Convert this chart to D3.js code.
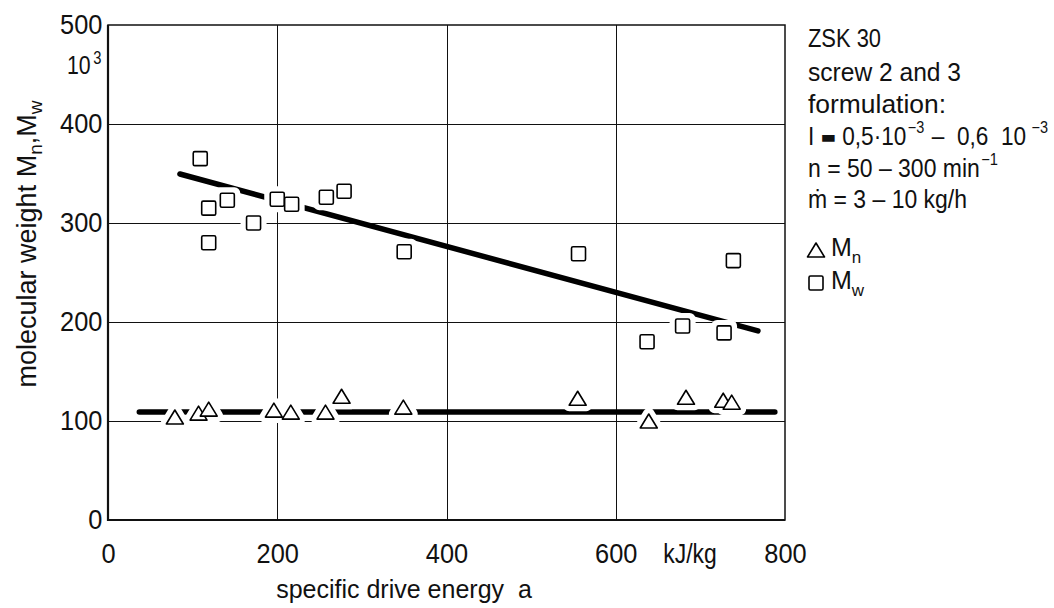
<!DOCTYPE html>
<html>
<head>
<meta charset="utf-8">
<script src="https://cdn.jsdelivr.net/npm/d3@7"></script>
<style>
  html, body { margin: 0; padding: 0; background: #fff; }
  svg { display: block; }
  text { fill: #111; }
</style>
</head>
<body>
<svg id="chart" width="1054" height="608"></svg>
<script>
// Weight-average molecular weight Mw (10^3) vs specific drive energy (kJ/kg)
const mwEnergy = [109, 119, 141, 119, 172, 200, 217, 258, 279, 350, 556, 739, 679, 637, 728];
const mwWeight = [365, 315, 323, 280, 300, 324, 319, 326, 332, 271, 269, 262, 196, 180, 189];

// Number-average molecular weight Mn (10^3) vs specific drive energy (kJ/kg)
const mnEnergy = [79, 107, 119, 196, 216, 257, 276, 349, 555, 639, 683, 727, 737];
const mnWeight = [104, 108, 112, 111, 109, 109, 125, 114, 123, 100, 124, 121, 119];

// Trend lines (start / end)
const mwTrendEnergy = [85, 768];
const mwTrendWeight = [349.5, 191];
const mnTrendEnergy = [37, 788];
const mnTrendWeight = [109, 109];

// Axis ticks
const xTicks = [0, 200, 400, 600, 800];
const yTicks = [0, 100, 200, 300, 400, 500];
const xGrid = [200, 400, 600];
const yGrid = [100, 200, 300, 400];

const SANS = "'Liberation Sans', Arial, sans-serif";
const DIGIT_X = 0.94;   // slight horizontal squeeze for the stencil-style digits

const svg = d3.select("#chart");

const x = d3.scaleLinear().domain([0, 800]).range([108, 785]);
const y = d3.scaleLinear().domain([0, 500]).range([520, 25]);

// Grid
const grid = svg.append("g").attr("stroke", "#111").attr("stroke-width", 1)
  .attr("shape-rendering", "crispEdges");
grid.selectAll("line.v").data(xGrid).join("line")
  .attr("class", "v")
  .attr("x1", d => Math.round(x(d)) + 0.5).attr("x2", d => Math.round(x(d)) + 0.5)
  .attr("y1", y(0)).attr("y2", y(500));
grid.selectAll("line.h").data(yGrid).join("line")
  .attr("class", "h")
  .attr("x1", x(0)).attr("x2", x(800))
  .attr("y1", d => Math.round(y(d)) + 0.5).attr("y2", d => Math.round(y(d)) + 0.5);

// Frame
svg.append("rect")
  .attr("x", x(0)).attr("y", y(500))
  .attr("width", x(800) - x(0)).attr("height", y(0) - y(500))
  .attr("fill", "none").attr("stroke", "#111").attr("stroke-width", 1.5);
svg.append("line")
  .attr("x1", x(0)).attr("x2", x(0)).attr("y1", y(0) + 1).attr("y2", y(500))
  .attr("stroke", "#111").attr("stroke-width", 2.2);
svg.append("line")
  .attr("x1", x(0)).attr("x2", x(800)).attr("y1", y(0)).attr("y2", y(0))
  .attr("stroke", "#111").attr("stroke-width", 2.2);

// Trend lines
const lineGen = d3.line().x(d => x(d[0])).y(d => y(d[1]));
const mwTrend = mwTrendEnergy.map((e, i) => [e, mwTrendWeight[i]]);
const mnTrend = mnTrendEnergy.map((e, i) => [e, mnTrendWeight[i]]);
svg.append("path").datum(mwTrend).attr("d", lineGen)
  .attr("fill", "none").attr("stroke", "#000").attr("stroke-width", 5.5)
  .attr("stroke-linecap", "round");
svg.append("path").datum(mnTrend).attr("d", lineGen)
  .attr("fill", "none").attr("stroke", "#000").attr("stroke-width", 5.5)
  .attr("stroke-linecap", "round");

// Marker shapes
const SQ = 14, TW = 17, TH = 14;
function trianglePath(cx, cy) {
  return `M${cx},${cy - TH / 2}L${cx + TW / 2},${cy + TH / 2}L${cx - TW / 2},${cy + TH / 2}Z`;
}
const mwPts = mwEnergy.map((e, i) => ({ e, w: mwWeight[i] }));
const mnPts = mnEnergy.map((e, i) => ({ e, w: mnWeight[i] }));

// White halos so lines break around the symbols
const halo = svg.append("g").attr("fill", "#fff").attr("stroke", "#fff").attr("stroke-width", 12)
  .attr("stroke-linejoin", "round");
halo.selectAll("rect").data(mwPts).join("rect")
  .attr("x", d => x(d.e) - SQ / 2).attr("y", d => y(d.w) - SQ / 2)
  .attr("width", SQ).attr("height", SQ);
halo.selectAll("path").data(mnPts).join("path")
  .attr("d", d => trianglePath(x(d.e), y(d.w)));

const marks = svg.append("g").attr("fill", "#fff").attr("stroke", "#000").attr("stroke-width", 1.6);
marks.selectAll("rect").data(mwPts).join("rect")
  .attr("x", d => x(d.e) - SQ / 2).attr("y", d => y(d.w) - SQ / 2)
  .attr("width", SQ).attr("height", SQ).attr("rx", 1.5);
marks.selectAll("path").data(mnPts).join("path")
  .attr("d", d => trianglePath(x(d.e), y(d.w)))
  .attr("stroke-linejoin", "round");

// Axes (labels only)
const xAxis = svg.append("g").attr("transform", `translate(0,${y(0)})`)
  .call(d3.axisBottom(x).tickValues(xTicks).tickSize(0).tickPadding(24).tickFormat(d3.format("d")));
xAxis.select(".domain").remove();
xAxis.selectAll("text").attr("font-family", SANS).attr("font-size", 27).attr("fill", "#111")
  .attr("transform", `scale(${DIGIT_X},1)`);

const yAxis = svg.append("g").attr("transform", `translate(${x(0)},0)`)
  .call(d3.axisLeft(y).tickValues(yTicks).tickSize(0).tickPadding(6).tickFormat(d3.format("d")));
yAxis.select(".domain").remove();
yAxis.selectAll("text").attr("font-family", SANS).attr("font-size", 27).attr("fill", "#111")
  .attr("transform", `scale(${DIGIT_X},1)`);

// Unit on x axis
svg.append("text").attr("transform", `translate(690,563) scale(0.85,1)`).attr("text-anchor", "middle")
  .attr("font-family", SANS).attr("font-size", 27).text("kJ/kg");

// Unit on y axis: 10^3
const unitY = svg.append("text").attr("transform", `translate(67,74) scale(0.82,1)`)
  .attr("font-family", SANS).attr("font-size", 26);
unitY.append("tspan").text("10");
unitY.append("tspan").attr("font-size", 18).attr("dy", -10).attr("dx", 3).text("3");

// Axis titles
svg.append("text").attr("x", 404).attr("y", 598).attr("text-anchor", "middle")
  .attr("font-family", SANS).attr("font-size", 25)
  .attr("xml:space", "preserve")
  .text("specific drive energy  a");

const yTitle = svg.append("text")
  .attr("transform", "translate(36,244) rotate(-90)")
  .attr("text-anchor", "middle")
  .attr("font-family", SANS).attr("font-size", 27);
yTitle.append("tspan").text("molecular weight M");
yTitle.append("tspan").attr("font-size", 19).attr("dy", 6).text("n");
yTitle.append("tspan").attr("dy", -6).text(",M");
yTitle.append("tspan").attr("font-size", 19).attr("dy", 6).text("w");

// Side notes
const LX = 808;
const notes = svg.append("g").attr("font-family", SANS).attr("font-size", 25);
const base = [47, 81, 113, 145, 177, 208];
const widths = [73, 153, 138, 240, 190, 159];

function fit(sel, i) {
  return sel.attr("textLength", widths[i]).attr("lengthAdjust", "spacingAndGlyphs");
}

fit(notes.append("text").attr("x", LX).attr("y", base[0]).text("ZSK 30"), 0);
fit(notes.append("text").attr("x", LX).attr("y", base[1]).text("screw 2 and 3"), 1);
fit(notes.append("text").attr("x", LX).attr("y", base[2]).text("formulation:"), 2);

const l4 = fit(notes.append("text").attr("x", LX).attr("y", base[3]).attr("xml:space", "preserve"), 3);
l4.append("tspan").text("I ");
l4.append("tspan").attr("font-family", "'DejaVu Sans', sans-serif").attr("font-weight", "bold")
  .attr("font-size", 18).attr("dy", -2).text("\u25AC");
l4.append("tspan").attr("dy", 2).text(" 0,5\u00B710");
l4.append("tspan").attr("font-size", 16).attr("dy", -12).attr("dx", 1.5).text("\u22123");
l4.append("tspan").attr("dy", 12).attr("dx", 1.5).text(" \u2013  0,6  10");
l4.append("tspan").attr("font-size", 16).attr("dy", -12).attr("dx", 1.5).text(" \u22123");

const l5 = fit(notes.append("text").attr("x", LX).attr("y", base[4]), 4);
l5.append("tspan").text("n = 50 \u2013 300 min");
l5.append("tspan").attr("font-size", 16).attr("dy", -12).attr("dx", 1.5).text("\u22121");

fit(notes.append("text").attr("x", LX).attr("y", base[5]).text("\u1E41 = 3 \u2013 10 kg/h"), 5);

// Legend
const legend = svg.append("g");
legend.append("path").attr("d", trianglePath(816, 250))
  .attr("fill", "#fff").attr("stroke", "#000").attr("stroke-width", 1.6).attr("stroke-linejoin", "round");
legend.append("rect").attr("x", 816 - SQ / 2).attr("y", 283 - SQ / 2).attr("width", SQ).attr("height", SQ)
  .attr("rx", 1.5).attr("fill", "#fff").attr("stroke", "#000").attr("stroke-width", 1.6);
const lgN = legend.append("text").attr("x", 831).attr("y", 256).attr("font-family", SANS).attr("font-size", 25);
lgN.append("tspan").text("M");
lgN.append("tspan").attr("font-size", 17).attr("dy", 7).text("n");
const lgW = legend.append("text").attr("x", 831).attr("y", 289).attr("font-family", SANS).attr("font-size", 25);
lgW.append("tspan").text("M");
lgW.append("tspan").attr("font-size", 17).attr("dy", 7).text("w");
</script>
</body>
</html>
